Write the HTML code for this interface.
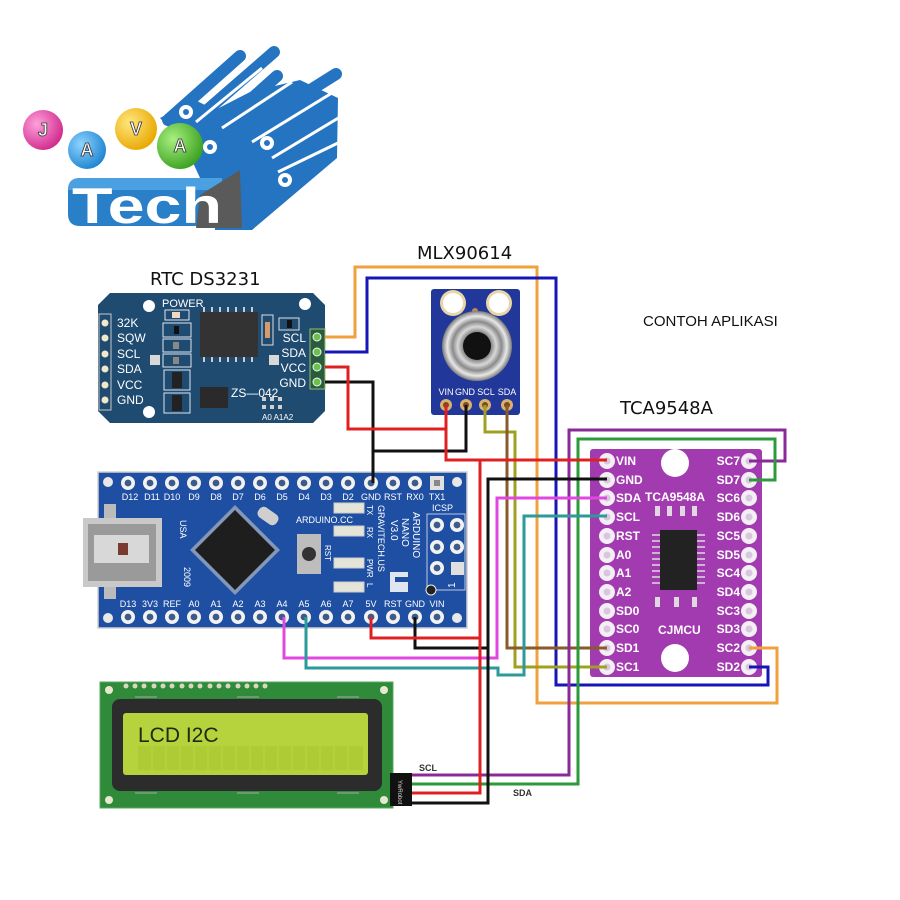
<!DOCTYPE html>
<html><head><meta charset="utf-8"><style>
html,body{margin:0;padding:0;background:#fff;}
svg{display:block}
text{font-family:"Liberation Sans",sans-serif}
.t{font-family:"DejaVu Sans","Liberation Sans",sans-serif}
</style></head><body>
<svg width="900" height="900" viewBox="0 0 900 900" xmlns="http://www.w3.org/2000/svg">
<defs>
<radialGradient id="gPink" cx="35%" cy="35%" r="70%"><stop offset="0" stop-color="#ffa0dc"/><stop offset="1" stop-color="#d02a8c"/></radialGradient>
<radialGradient id="gBlue" cx="35%" cy="35%" r="70%"><stop offset="0" stop-color="#8fd4ff"/><stop offset="1" stop-color="#1e84d0"/></radialGradient>
<radialGradient id="gYel" cx="35%" cy="35%" r="70%"><stop offset="0" stop-color="#ffe680"/><stop offset="1" stop-color="#e8a800"/></radialGradient>
<radialGradient id="gGrn" cx="35%" cy="35%" r="70%"><stop offset="0" stop-color="#a8f080"/><stop offset="1" stop-color="#3aa020"/></radialGradient>
<radialGradient id="gSens" cx="50%" cy="50%" r="50%"><stop offset="0.35" stop-color="#6a6a6a"/><stop offset="0.55" stop-color="#d8d8d8"/><stop offset="0.7" stop-color="#8a8a8a"/><stop offset="0.85" stop-color="#e8e8e8"/><stop offset="1" stop-color="#7a7a7a"/></radialGradient>
<g id="np"><circle r="7" fill="#f2f2f2"/><circle r="3.4" fill="#3d5a8a"/></g>
<g id="tp"><circle r="8" fill="#f4eef5"/><circle r="3.5" fill="#d9c6de"/></g>
<g id="mp"><circle r="6" fill="#d9b070"/><circle r="3" fill="#7a4a20"/></g>
</defs>

<!-- ================= LOGO ================= -->
<g>
<polygon points="160,118 195,100 215,110 250,92 300,80 338,98 337,158 252,230 215,230 213,190 200,178 185,145" fill="#2474c2"/>
<g stroke="#2474c2" stroke-width="12" stroke-linecap="round" fill="none">
<line x1="168" y1="120" x2="240" y2="56"/>
<line x1="205" y1="112" x2="274" y2="52"/>
<line x1="230" y1="118" x2="277" y2="76"/>
<line x1="250" y1="128" x2="336" y2="74"/>
<line x1="275" y1="140" x2="330" y2="104"/>
<line x1="285" y1="160" x2="330" y2="130"/>
<line x1="285" y1="180" x2="330" y2="153"/>
</g>
<g stroke="#fff" stroke-width="3" fill="none">
<line x1="196" y1="122" x2="262" y2="68"/>
<line x1="222" y1="128" x2="292" y2="82"/>
<line x1="252" y1="142" x2="340" y2="88"/>
<line x1="272" y1="158" x2="340" y2="117"/>
<line x1="278" y1="172" x2="340" y2="142"/>
</g>
<g fill="#fff"><circle cx="186" cy="112" r="7"/><circle cx="210" cy="147" r="7"/><circle cx="267" cy="143" r="7"/><circle cx="285" cy="180" r="7"/></g>
<g fill="#2474c2"><circle cx="186" cy="112" r="3"/><circle cx="210" cy="147" r="3"/><circle cx="267" cy="143" r="3"/><circle cx="285" cy="180" r="3"/></g>
<path d="M80,178 H222 V226 H80 Q68,226 68,214 V190 Q68,178 80,178 Z" fill="#2a80c8"/>
<path d="M80,178 H222 V190 H68 Q68,178 80,178 Z" fill="#4aa0e0"/>
<polygon points="196,228 200,195 240,170 242,228" fill="#5a5a5a"/>
<text x="72" y="223" font-size="50" font-weight="bold" fill="#fff" textLength="150" lengthAdjust="spacingAndGlyphs">Tech</text>
<circle cx="43" cy="130" r="20" fill="url(#gPink)"/>
<circle cx="87" cy="150" r="19" fill="url(#gBlue)"/>
<circle cx="136" cy="129" r="21" fill="url(#gYel)"/>
<circle cx="180" cy="146" r="23" fill="url(#gGrn)"/>
<g font-size="18" font-weight="bold" fill="#fff" stroke="#333" stroke-width="0.8" text-anchor="middle">
<text x="43" y="136">J</text><text x="87" y="156">A</text><text x="136" y="135">V</text><text x="180" y="152">A</text>
</g>
</g>

<!-- ================= TITLES ================= -->
<text class="t" x="150" y="285" font-size="18" fill="#111">RTC DS3231</text>
<text class="t" x="417" y="259" font-size="18" fill="#111">MLX90614</text>
<text class="t" x="620" y="414" font-size="18" fill="#111">TCA9548A</text>
<text x="643" y="326" font-size="15" fill="#111">CONTOH APLIKASI</text>

<!-- ================= RTC ================= -->
<g>
<path d="M110,293 H313 L325,305 V411 L313,423 H110 L98,411 V305 Z" fill="#1f4b71"/>
<rect x="99" y="314" width="12" height="96" fill="none" stroke="#c8c8c8" stroke-width="1"/>
<g fill="#f0e8c8"><circle cx="105" cy="323" r="3.5"/><circle cx="105" cy="338" r="3.5"/><circle cx="105" cy="354" r="3.5"/><circle cx="105" cy="369" r="3.5"/><circle cx="105" cy="385" r="3.5"/><circle cx="105" cy="400" r="3.5"/></g>
<g font-size="12" fill="#fff"><text x="117" y="327">32K</text><text x="117" y="342">SQW</text><text x="117" y="358">SCL</text><text x="117" y="373">SDA</text><text x="117" y="389">VCC</text><text x="117" y="404">GND</text></g>
<text x="162" y="307" font-size="11" fill="#fff">POWER</text>
<g fill="none" stroke="#dfe6ee" stroke-width="1">
<rect x="165" y="310" width="24" height="10"/><rect x="163" y="323" width="28" height="14"/><rect x="163" y="339" width="28" height="13"/><rect x="163" y="354" width="28" height="13"/>
<rect x="164" y="370" width="26" height="20"/><rect x="164" y="393" width="26" height="20"/>
</g>
<rect x="172" y="312" width="8" height="6" fill="#f2d8c0"/>
<rect x="174" y="326" width="5" height="8" fill="#111"/><rect x="173" y="342" width="6" height="7" fill="#888"/><rect x="173" y="357" width="6" height="7" fill="#888"/>
<rect x="172" y="372" width="10" height="16" fill="#222"/><rect x="172" y="395" width="10" height="16" fill="#222"/>
<rect x="200" y="312" width="58" height="45" fill="#333"/>
<g fill="#ccc"><rect x="203" y="307" width="2" height="5"/><rect x="211" y="307" width="2" height="5"/><rect x="219" y="307" width="2" height="5"/><rect x="227" y="307" width="2" height="5"/><rect x="235" y="307" width="2" height="5"/><rect x="243" y="307" width="2" height="5"/><rect x="251" y="307" width="2" height="5"/>
<rect x="203" y="357" width="2" height="5"/><rect x="211" y="357" width="2" height="5"/><rect x="219" y="357" width="2" height="5"/><rect x="227" y="357" width="2" height="5"/><rect x="235" y="357" width="2" height="5"/><rect x="243" y="357" width="2" height="5"/><rect x="251" y="357" width="2" height="5"/></g>
<rect x="262" y="315" width="11" height="30" fill="none" stroke="#ddd"/><rect x="265" y="322" width="5" height="16" fill="#d89a6a"/>
<rect x="279" y="318" width="20" height="12" fill="none" stroke="#ddd"/><rect x="287" y="320" width="5" height="8" fill="#111"/>
<rect x="150" y="355" width="10" height="10" fill="#d8d8d8"/><rect x="269" y="355" width="10" height="10" fill="#d8d8d8"/>
<rect x="200" y="387" width="28" height="21" fill="#2a2a2a"/>
<text x="231" y="397" font-size="12" fill="#fff">ZS—042</text>
<g fill="#d0d0d0"><rect x="262" y="397" width="4" height="4"/><rect x="270" y="397" width="4" height="4"/><rect x="278" y="397" width="4" height="4"/><rect x="262" y="405" width="4" height="4"/><rect x="270" y="405" width="4" height="4"/><rect x="278" y="405" width="4" height="4"/></g>
<text x="262" y="420" font-size="8" fill="#fff">A0 A1A2</text>
<g font-size="12" fill="#fff" text-anchor="end"><text x="306" y="342">SCL</text><text x="306" y="357">SDA</text><text x="306" y="372">VCC</text><text x="306" y="387">GND</text></g>
<rect x="310" y="329" width="15" height="60" fill="#2c5a3c" stroke="#8fbf6a" stroke-width="1"/>
<g fill="#6fbf4a" stroke="#dff" stroke-width="1"><circle cx="317" cy="337" r="4"/><circle cx="317" cy="352" r="4"/><circle cx="317" cy="367" r="4"/><circle cx="317" cy="382" r="4"/></g>
<g fill="#fff"><circle cx="149" cy="306" r="6"/><circle cx="305" cy="304" r="6"/><circle cx="149" cy="412" r="6"/></g>
</g>

<!-- ================= MLX ================= -->
<g>
<rect x="431" y="289" width="89" height="126" rx="3" fill="#22379a"/>
<circle cx="453" cy="303" r="13" fill="#e8d6a8"/><circle cx="453" cy="303" r="10" fill="#fff"/>
<circle cx="499" cy="303" r="13" fill="#e8d6a8"/><circle cx="499" cy="303" r="10" fill="#fff"/>
<circle cx="475" cy="311" r="3" fill="#c08a50"/>
<circle cx="477" cy="346" r="35" fill="url(#gSens)"/>
<circle cx="477" cy="346" r="14" fill="#111"/>
<g font-size="9" fill="#fff" text-anchor="middle"><text x="446" y="395">VIN</text><text x="465" y="395">GND</text><text x="486" y="395">SCL</text><text x="507" y="395">SDA</text></g>
<use href="#mp" x="446" y="405"/><use href="#mp" x="466" y="405"/><use href="#mp" x="485" y="405"/><use href="#mp" x="507" y="405"/>
</g>

<!-- ================= ARDUINO NANO ================= -->
<g>
<rect x="98" y="472" width="369" height="156" fill="#1e4fa3"/>
<rect x="98" y="472" width="369" height="156" fill="none" stroke="#d0d0d0" stroke-width="1.5"/>
<g fill="#e8e8e8"><circle cx="108" cy="482" r="5"/><circle cx="457" cy="482" r="5"/><circle cx="108" cy="618" r="5"/><circle cx="457" cy="618" r="5"/></g>
<use href="#np" x="128" y="483"/><use href="#np" x="150" y="483"/><use href="#np" x="172" y="483"/><use href="#np" x="194" y="483"/><use href="#np" x="216" y="483"/><use href="#np" x="238" y="483"/><use href="#np" x="260" y="483"/><use href="#np" x="282" y="483"/><use href="#np" x="304" y="483"/><use href="#np" x="326" y="483"/><use href="#np" x="348" y="483"/><use href="#np" x="371" y="483"/><use href="#np" x="393" y="483"/><use href="#np" x="415" y="483"/>
<rect x="430" y="476" width="14" height="14" fill="#e0e0e0"/><rect x="434" y="480" width="6" height="6" fill="#888"/>
<use href="#np" x="128" y="617"/><use href="#np" x="150" y="617"/><use href="#np" x="172" y="617"/><use href="#np" x="194" y="617"/><use href="#np" x="216" y="617"/><use href="#np" x="238" y="617"/><use href="#np" x="260" y="617"/><use href="#np" x="282" y="617"/><use href="#np" x="304" y="617"/><use href="#np" x="326" y="617"/><use href="#np" x="348" y="617"/><use href="#np" x="371" y="617"/><use href="#np" x="393" y="617"/><use href="#np" x="415" y="617"/><use href="#np" x="437" y="617"/>
<g font-size="9" fill="#fff" text-anchor="middle">
<text x="130" y="500">D12</text><text x="152" y="500">D11</text><text x="172" y="500">D10</text><text x="194" y="500">D9</text><text x="216" y="500">D8</text><text x="238" y="500">D7</text><text x="260" y="500">D6</text><text x="282" y="500">D5</text><text x="304" y="500">D4</text><text x="326" y="500">D3</text><text x="348" y="500">D2</text><text x="371" y="500">GND</text><text x="393" y="500">RST</text><text x="415" y="500">RX0</text><text x="437" y="500">TX1</text>
<text x="128" y="607">D13</text><text x="150" y="607">3V3</text><text x="172" y="607">REF</text><text x="194" y="607">A0</text><text x="216" y="607">A1</text><text x="238" y="607">A2</text><text x="260" y="607">A3</text><text x="282" y="607">A4</text><text x="304" y="607">A5</text><text x="326" y="607">A6</text><text x="348" y="607">A7</text><text x="371" y="607">5V</text><text x="393" y="607">RST</text><text x="415" y="607">GND</text><text x="437" y="607">VIN</text>
</g>
<rect x="83" y="518" width="79" height="69" fill="#c9c9c9"/>
<rect x="88" y="524" width="68" height="57" fill="#9a9a9a"/>
<rect x="94" y="535" width="55" height="28" fill="#d8d8d8"/>
<rect x="118" y="543" width="10" height="12" fill="#7a3a30"/>
<rect x="104" y="504" width="12" height="14" fill="#bbb"/><rect x="104" y="587" width="12" height="12" fill="#bbb"/>
<polygon points="235,505 280,550 235,595 190,550" fill="#c8c8c8" opacity="0.6"/>
<polygon points="235,510 275,550 235,590 195,550" fill="#1e1e1e"/>
<text x="180" y="520" font-size="9" fill="#fff" transform="rotate(90 180 520)">USA</text>
<text x="184" y="567" font-size="9" fill="#fff" transform="rotate(90 184 567)">2009</text>
<rect x="257" y="510" width="22" height="12" rx="5" fill="#cfcfcf" transform="rotate(35 268 516)"/>
<text x="296" y="523" font-size="9" fill="#fff">ARDUINO.CC</text>
<rect x="297" y="534" width="24" height="40" fill="#bdbdbd"/>
<circle cx="309" cy="554" r="7" fill="#333"/>
<text x="325" y="545" font-size="8" fill="#fff" transform="rotate(90 325 545)">RST</text>
<g fill="#e4e4d8" stroke="#ccc"><rect x="334" y="503" width="30" height="10"/><rect x="334" y="526" width="30" height="10"/><rect x="334" y="558" width="30" height="10"/><rect x="334" y="582" width="30" height="10"/></g>
<g font-size="8" fill="#fff"><text x="367" y="505" transform="rotate(90 367 505)">TX</text><text x="367" y="527" transform="rotate(90 367 527)">RX</text><text x="367" y="559" transform="rotate(90 367 559)">PWR</text><text x="367" y="583" transform="rotate(90 367 583)">L</text></g>
<text x="378" y="505" font-size="9" fill="#fff" transform="rotate(90 378 505)">GRAVITECH.US</text>
<text x="391" y="520" font-size="10" fill="#fff" transform="rotate(90 391 520)">V3.0</text>
<text x="402" y="518" font-size="10" fill="#fff" transform="rotate(90 402 518)">NANO</text>
<text x="413" y="512" font-size="10" fill="#fff" transform="rotate(90 413 512)">ARDUINO</text>
<rect x="390" y="572" width="18" height="20" fill="#dfe6f0"/><rect x="395" y="577" width="13" height="5" fill="#1e4fa3"/>
<rect x="427" y="514" width="38" height="76" fill="none" stroke="#c0c8e0"/>
<text x="432" y="511" font-size="9" fill="#fff">ICSP</text>
<use href="#np" x="437" y="525"/><use href="#np" x="457" y="525"/><use href="#np" x="437" y="547"/><use href="#np" x="457" y="547"/><use href="#np" x="437" y="568"/>
<rect x="451" y="562" width="13" height="13" fill="#e0e0e0"/>
<circle cx="431" cy="590" r="5" fill="#222" stroke="#eee"/>
<text x="455" y="588" font-size="10" fill="#fff" transform="rotate(-90 455 588)">1</text>
</g>

<!-- ================= TCA9548A ================= -->
<g>
<rect x="590" y="449" width="172" height="228" rx="3" fill="#a33bb0"/>
<circle cx="675" cy="463" r="14" fill="#fff"/>
<circle cx="675" cy="658" r="14" fill="#fff"/>
<rect x="660" y="530" width="37" height="60" fill="#222"/>
<g stroke="#ddd" stroke-width="1.5"><line x1="652" y1="535" x2="660" y2="535"/><line x1="652" y1="541" x2="660" y2="541"/><line x1="652" y1="547" x2="660" y2="547"/><line x1="652" y1="553" x2="660" y2="553"/><line x1="652" y1="559" x2="660" y2="559"/><line x1="652" y1="565" x2="660" y2="565"/><line x1="652" y1="571" x2="660" y2="571"/><line x1="652" y1="577" x2="660" y2="577"/><line x1="652" y1="583" x2="660" y2="583"/>
<line x1="697" y1="535" x2="705" y2="535"/><line x1="697" y1="541" x2="705" y2="541"/><line x1="697" y1="547" x2="705" y2="547"/><line x1="697" y1="553" x2="705" y2="553"/><line x1="697" y1="559" x2="705" y2="559"/><line x1="697" y1="565" x2="705" y2="565"/><line x1="697" y1="571" x2="705" y2="571"/><line x1="697" y1="577" x2="705" y2="577"/><line x1="697" y1="583" x2="705" y2="583"/></g>
<g fill="#e0d8e0"><rect x="655" y="506" width="5" height="10"/><rect x="667" y="506" width="5" height="10"/><rect x="680" y="506" width="5" height="10"/><rect x="692" y="506" width="5" height="10"/>
<rect x="655" y="597" width="5" height="10"/><rect x="674" y="597" width="5" height="10"/><rect x="692" y="597" width="5" height="10"/></g>
<text x="645" y="501" font-size="12" font-weight="bold" fill="#fff">TCA9548A</text>
<text x="658" y="634" font-size="12" font-weight="bold" fill="#fff">CJMCU</text>
<use href="#tp" x="607" y="461"/><use href="#tp" x="607" y="480"/><use href="#tp" x="607" y="498"/><use href="#tp" x="607" y="517"/><use href="#tp" x="607" y="536"/><use href="#tp" x="607" y="555"/><use href="#tp" x="607" y="573"/><use href="#tp" x="607" y="592"/><use href="#tp" x="607" y="611"/><use href="#tp" x="607" y="629"/><use href="#tp" x="607" y="648"/><use href="#tp" x="607" y="667"/>
<use href="#tp" x="749" y="461"/><use href="#tp" x="749" y="480"/><use href="#tp" x="749" y="498"/><use href="#tp" x="749" y="517"/><use href="#tp" x="749" y="536"/><use href="#tp" x="749" y="555"/><use href="#tp" x="749" y="573"/><use href="#tp" x="749" y="592"/><use href="#tp" x="749" y="611"/><use href="#tp" x="749" y="629"/><use href="#tp" x="749" y="648"/><use href="#tp" x="749" y="667"/>
<g font-size="12" font-weight="bold" fill="#fff">
<text x="616" y="465">VIN</text><text x="616" y="484">GND</text><text x="616" y="502">SDA</text><text x="616" y="521">SCL</text><text x="616" y="540">RST</text><text x="616" y="559">A0</text><text x="616" y="577">A1</text><text x="616" y="596">A2</text><text x="616" y="615">SD0</text><text x="616" y="633">SC0</text><text x="616" y="652">SD1</text><text x="616" y="671">SC1</text>
</g>
<g font-size="12" font-weight="bold" fill="#fff" text-anchor="end">
<text x="740" y="465">SC7</text><text x="740" y="484">SD7</text><text x="740" y="502">SC6</text><text x="740" y="521">SD6</text><text x="740" y="540">SC5</text><text x="740" y="559">SD5</text><text x="740" y="577">SC4</text><text x="740" y="596">SD4</text><text x="740" y="615">SC3</text><text x="740" y="633">SD3</text><text x="740" y="652">SC2</text><text x="740" y="671">SD2</text>
</g>
</g>

<!-- ================= LCD ================= -->
<g>
<rect x="100" y="682" width="293" height="126" fill="#2f8a3a"/>
<rect x="100" y="682" width="293" height="126" fill="none" stroke="#5aa860" stroke-width="1"/>
<g fill="#e8e8d0"><circle cx="109" cy="690" r="4"/><circle cx="384" cy="690" r="4"/><circle cx="109" cy="800" r="4"/><circle cx="384" cy="800" r="4"/></g>
<g fill="#d8d8c0">
<circle cx="126" cy="686" r="2.5"/><circle cx="135" cy="686" r="2.5"/><circle cx="144" cy="686" r="2.5"/><circle cx="154" cy="686" r="2.5"/><circle cx="163" cy="686" r="2.5"/><circle cx="172" cy="686" r="2.5"/><circle cx="182" cy="686" r="2.5"/><circle cx="191" cy="686" r="2.5"/><circle cx="200" cy="686" r="2.5"/><circle cx="210" cy="686" r="2.5"/><circle cx="219" cy="686" r="2.5"/><circle cx="228" cy="686" r="2.5"/><circle cx="238" cy="686" r="2.5"/><circle cx="247" cy="686" r="2.5"/><circle cx="256" cy="686" r="2.5"/><circle cx="265" cy="686" r="2.5"/>
</g>
<rect x="112" y="699" width="270" height="92" rx="8" fill="#2c2c2c"/>
<g stroke="#aaa" stroke-width="1"><line x1="135" y1="697" x2="157" y2="697"/><line x1="237" y1="697" x2="259" y2="697"/><line x1="337" y1="697" x2="359" y2="697"/><line x1="135" y1="793" x2="157" y2="793"/><line x1="237" y1="793" x2="259" y2="793"/><line x1="337" y1="793" x2="359" y2="793"/></g>
<rect x="123" y="713" width="245" height="62" rx="3" fill="#b6d23c"/>
<g fill="#acc935" opacity="0.8"><rect x="138" y="746" width="225" height="24"/></g>
<g stroke="#b6d23c" stroke-width="1.5">
<line x1="152" y1="718" x2="152" y2="770"/><line x1="166" y1="718" x2="166" y2="770"/><line x1="180" y1="718" x2="180" y2="770"/><line x1="194" y1="718" x2="194" y2="770"/><line x1="208" y1="718" x2="208" y2="770"/><line x1="222" y1="718" x2="222" y2="770"/><line x1="236" y1="718" x2="236" y2="770"/><line x1="250" y1="718" x2="250" y2="770"/><line x1="264" y1="718" x2="264" y2="770"/><line x1="278" y1="718" x2="278" y2="770"/><line x1="292" y1="718" x2="292" y2="770"/><line x1="306" y1="718" x2="306" y2="770"/><line x1="320" y1="718" x2="320" y2="770"/><line x1="334" y1="718" x2="334" y2="770"/><line x1="348" y1="718" x2="348" y2="770"/>
</g>
<text x="138" y="742" font-size="21" fill="#1e2a12">LCD I2C</text>
<rect x="390" y="773" width="22" height="33" fill="#111"/>
<text x="398" y="780" font-size="6" fill="#ddd" transform="rotate(90 398 780)">YwRobot</text>
</g>

<!-- ================= WIRES ================= -->
<g fill="none" stroke-width="3" stroke-linejoin="miter">
<polyline stroke="#f0a03c" points="325,337 355,337 355,267 537,267 537,703 777,703 777,648 749,648"/>
<polyline stroke="#1616b8" points="325,352 367,352 367,278 556,278 556,685 768,685 768,667 749,667"/>
<polyline stroke="#a0a020" points="485,405 485,432 515,432 515,667 607,667"/>
<polyline stroke="#8a5a2a" points="507,405 507,648 607,648"/>
<polyline stroke="#8a2a98" points="749,461 785,461 785,430 569,430 569,775 412,775"/>
<polyline stroke="#2a9a3a" points="749,480 775,480 775,439 578,439 578,784 412,784"/>
<polyline stroke="#e048e0" points="284,617 284,658 497,658 497,498 607,498"/>
<polyline stroke="#2a9a9a" points="306,617 306,668 498,668 498,675 524,675 524,516 607,516"/>
<polyline stroke="#111" points="325,382 373,382 373,483"/>
<polyline stroke="#111" points="466,405 466,451 373,451"/>
<polyline stroke="#111" points="607,479 488,479 488,803 412,803"/>
<polyline stroke="#111" points="415,617 415,648 488,648"/>
<polyline stroke="#e02020" points="325,367 348,367 348,429 446,429"/>
<polyline stroke="#e02020" points="446,405 446,460 607,460"/>
<polyline stroke="#e02020" points="480,460 480,793 412,793"/>
<polyline stroke="#e02020" points="371,617 371,638 480,638"/>
</g>
<text x="419" y="771" font-size="9" font-weight="bold" fill="#333">SCL</text>
<text x="513" y="796" font-size="9" font-weight="bold" fill="#333">SDA</text>
</svg>
</body></html>
